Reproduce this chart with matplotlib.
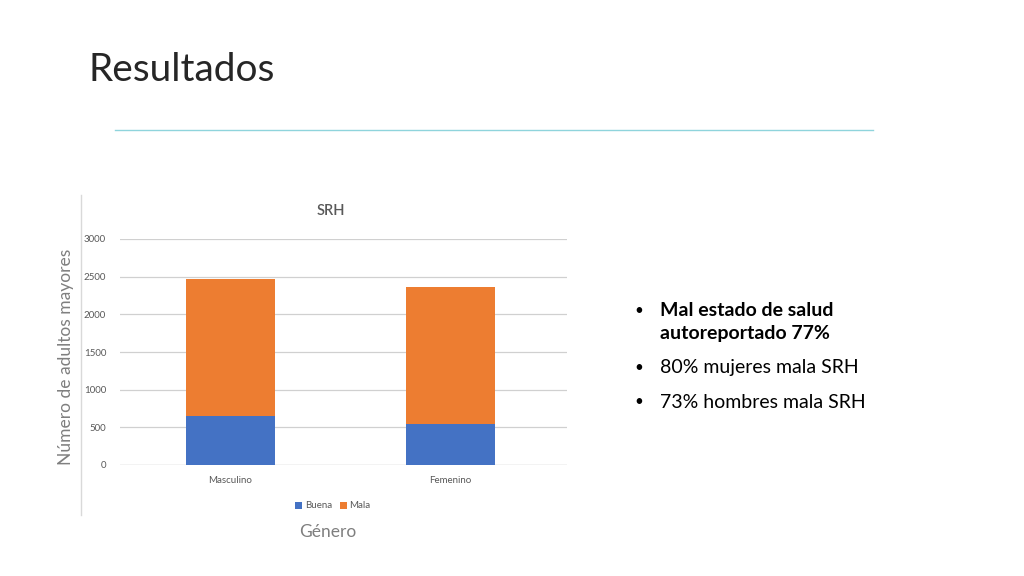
import matplotlib
matplotlib.use("Agg")
import matplotlib.pyplot as plt
import numpy as np

plt.rcParams['font.family'] = ['Lato', 'DejaVu Sans']

# Data
categories = ["Masculino", "Femenino"]
buena = [656, 545]
mala = [1812, 1812]
yticks = [0, 500, 1000, 1500, 2000, 2500, 3000]

bullet_lines = [
    ("Mal estado de salud", "bold", True),
    ("autoreportado 77%", "bold", False),
    ("80% mujeres mala SRH", "normal", True),
    ("73% hombres mala SRH", "normal", True),
]

fig = plt.figure(figsize=(10.24, 5.76), dpi=100)
fig.patch.set_facecolor("white")

# Slide title and underline
fig.text(88 / 1024, 1 - 70 / 576, "Resultados", fontsize=28, fontweight="normal",
         color="#262626", va="center", ha="left")
fig.add_artist(plt.Line2D([115 / 1024, 873 / 1024], [1 - 130 / 576] * 2,
                          color="#8fd4dc", lw=1))

# chart left border line
fig.add_artist(plt.Line2D([81 / 1024] * 2, [1 - 195 / 576, 1 - 515 / 576],
                          color="#d9d9d9", lw=1))

ax = fig.add_axes([120 / 1024, 1 - 465 / 576, 447 / 1024, 226 / 576])
x = np.arange(len(categories))
w = 0.405
ax.bar(x, buena, w, color="#4472c4", label="Buena", zorder=3)
ax.bar(x, mala, w, bottom=buena, color="#ed7d31", label="Mala", zorder=3)

ax.set_xlim(-0.5, 1.53)
ax.set_ylim(0, 3000)
ax.set_yticks(yticks)
ax.set_xticks(x)
ax.set_xticklabels(categories)
ax.tick_params(axis="both", length=0, labelsize=7, colors="#595959")
ax.tick_params(axis="y", pad=10)
ax.tick_params(axis="x", pad=8)
ax.grid(axis="y", color="#d0d0d0", lw=0.9, zorder=0)
for s in ax.spines.values():
    s.set_visible(False)
ax.axhline(0, color="#d0d0d0", lw=0.9, zorder=2)

fig.text(331 / 1024, 1 - 211 / 576, "SRH", fontsize=10.5, fontweight="semibold",
         color="#595959", ha="center", va="center")
fig.text(66 / 1024, 1 - 357 / 576, "Número de adultos mayores", fontsize=12.5,
         color="#7f7f7f", rotation=90, ha="center", va="center")
fig.text(328 / 1024, 1 - 532 / 576, "Género", fontsize=12.5, color="#7f7f7f",
         ha="center", va="center")

ax.legend(loc="center", bbox_to_anchor=(333 / 1024, 1 - 506 / 576),
          bbox_transform=fig.transFigure, ncol=2, frameon=False, fontsize=7,
          handlelength=0.7, handleheight=0.7, handletextpad=0.3, columnspacing=0.8,
          labelcolor="#595959")

# Bullet list
ys = [311, 334, 368, 402]
for (txt, wt, has_bullet), yy in zip(bullet_lines, ys):
    if has_bullet:
        fig.text(634 / 1024, 1 - yy / 576, "•", fontsize=11, color="#000000",
                 ha="left", va="center")
    fig.text(660 / 1024, 1 - yy / 576, txt, fontsize=14, fontweight=wt,
             color="#000000", ha="left", va="center")

fig.savefig("out.png", dpi=100, facecolor="white")
